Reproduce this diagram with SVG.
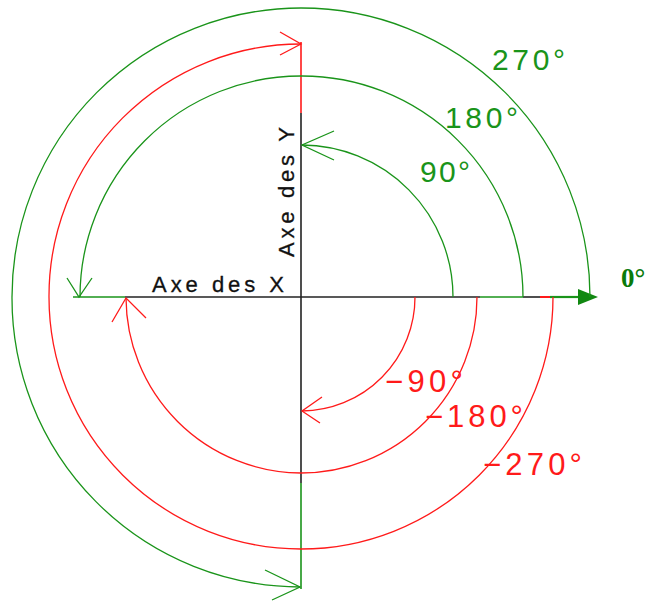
<svg xmlns="http://www.w3.org/2000/svg" width="647" height="602" viewBox="0 0 647 602">
<style>
.g{stroke:#1a941a;fill:none;stroke-width:1.3}
.r{stroke:#ff1a1a;fill:none;stroke-width:1.3}
.k{stroke:#222;fill:none;stroke-width:1.6}
.lg{fill:#1a941a;font-family:"Liberation Sans",Arial,sans-serif;font-size:30px}
.lr{fill:#ff1a1a;font-family:"Liberation Sans",Arial,sans-serif;font-size:31px}
.ax{fill:#111;font-family:"Liberation Sans",Arial,sans-serif;font-size:22px;stroke:#111;stroke-width:0.3}
</style>
<rect width="647" height="602" fill="#fff"/>
<g id="axes">
  <g id="x-axis">
    <line class="g" x1="73" y1="297" x2="125" y2="297"/>
    <line class="k" x1="125" y1="297" x2="480" y2="297"/>
    <line class="g" x1="480" y1="297" x2="523" y2="297"/>
    <line class="k" x1="523" y1="297" x2="540" y2="297"/>
    <line class="r" x1="540" y1="297" x2="550" y2="297" style="stroke-width:2"/>
    <line class="g" x1="550" y1="297" x2="582" y2="297" style="stroke-width:2.2"/>
    <polygon points="578,289 598,297 578,305" fill="#118811"/>
  </g>
  <g id="y-axis">
    <line class="r" x1="301" y1="42" x2="301" y2="113" style="stroke-width:1.6"/>
    <line class="k" x1="301" y1="113" x2="301" y2="483"/>
    <line class="g" x1="301" y1="483" x2="301" y2="589" style="stroke-width:1.6"/>
  </g>
</g>
<g id="connectors">
  <g id="arc-90">
    <path class="g" d="M453,297 A152,152 0 0 0 302,145"/>
    <path class="g" d="M334,131 L302,145 L334,160"/>
  </g>
  <g id="arc-180">
    <path class="g" d="M523,297 A221,221 0 0 0 301,76 A221,221 0 0 0 80,297"/>
    <path class="g" d="M67,278 L79,297 L92,278"/>
  </g>
  <g id="arc-270">
    <path class="g" d="M590,297 A289,289 0 0 0 301,8 A289,289 0 0 0 12,297 A289,289 0 0 0 300,587"/>
    <path class="g" d="M265,570 L300,587 L272,600"/>
  </g>
  <g id="arc-m90">
    <path class="r" d="M415,297 A114,114 0 0 1 302,411"/>
    <path class="r" d="M322,397 L302,411 L320,423"/>
  </g>
  <g id="arc-m180">
    <path class="r" d="M477,297 A176,176 0 0 1 301,473 A176,176 0 0 1 126,298"/>
    <path class="r" d="M112,322 L126,298 L146,318"/>
  </g>
  <g id="arc-m270">
    <path class="r" d="M553,297 A252,252 0 0 1 301,549 A252,252 0 0 1 49,297 A252,252 0 0 1 301,44"/>
    <path class="r" d="M280,32 L301,44 L280,55"/>
  </g>
</g>
<g id="labels">
  <text class="ax" x="152" y="292" textLength="132" lengthAdjust="spacing">Axe des X</text>
  <text class="ax" transform="translate(294,257) rotate(-90)" x="0" y="0" textLength="130" lengthAdjust="spacing">Axe des Y</text>
  <text class="lg" x="420" y="182" textLength="50" lengthAdjust="spacing">90°</text>
  <text class="lg" x="445" y="128" textLength="73" lengthAdjust="spacing">180°</text>
  <text class="lg" x="492" y="70" textLength="73" lengthAdjust="spacing">270°</text>
  <text class="lr" x="385" y="392" textLength="78" lengthAdjust="spacing">−90°</text>
  <text class="lr" x="425" y="427" textLength="98" lengthAdjust="spacing">−180°</text>
  <text class="lr" x="483" y="475" textLength="99" lengthAdjust="spacing">−270°</text>
  <text x="621" y="287" fill="#0a7a0a" font-family="'Liberation Serif','Times New Roman',serif" font-weight="bold" font-size="27">0°</text>
</g>
</svg>
